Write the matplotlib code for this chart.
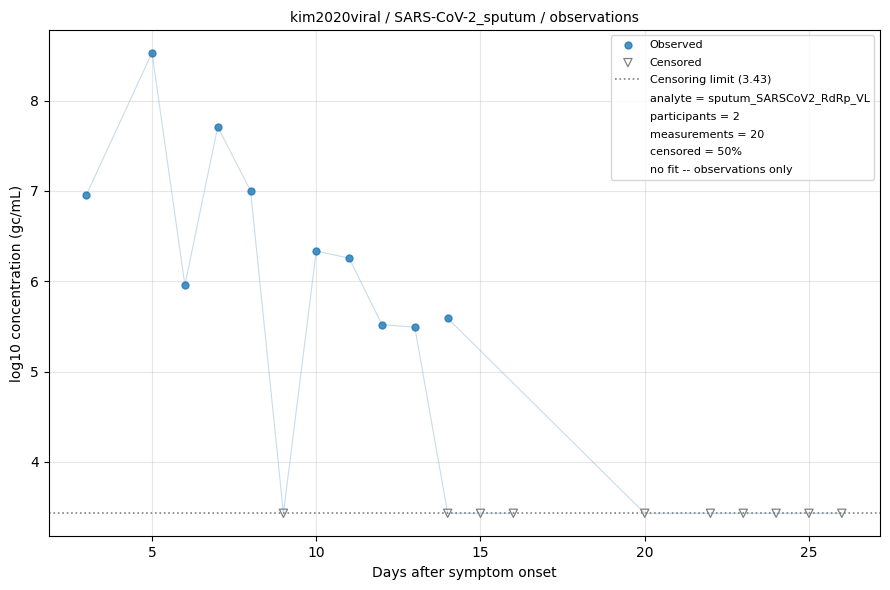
import matplotlib
matplotlib.use("Agg")
import matplotlib.pyplot as plt
from matplotlib.lines import Line2D

# Data
limit = 3.43
# participant 1
p1_days = [3, 5, 6, 7, 8, 9, 10, 11, 12, 13, 14, 15, 16]
p1_vals = [6.955, 8.53, 5.955, 7.71, 7.0, 3.43, 6.335, 6.255, 5.52, 5.49, 3.43, 3.43, 3.43]
p1_cens = [False, False, False, False, False, True, False, False, False, False, True, True, True]
# participant 2
p2_days = [14, 20, 22, 23, 24, 25, 26]
p2_vals = [5.59, 3.43, 3.43, 3.43, 3.43, 3.43, 3.43]
p2_cens = [False, True, True, True, True, True, True]

participants = [(p1_days, p1_vals, p1_cens), (p2_days, p2_vals, p2_cens)]

fig, ax = plt.subplots(figsize=(8.9, 5.9), dpi=100)

obs_x, obs_y, cen_x, cen_y = [], [], [], []
for days, vals, cens in participants:
    ax.plot(days, vals, color="tab:blue", alpha=0.25, lw=0.8, zorder=1)
    for d, v, c in zip(days, vals, cens):
        if c:
            cen_x.append(d)
            cen_y.append(v)
        else:
            obs_x.append(d)
            obs_y.append(v)

ax.scatter(obs_x, obs_y, s=25, color="tab:blue", alpha=0.8, zorder=3, label="Observed")
ax.scatter(cen_x, cen_y, s=35, marker="v", facecolors="none", edgecolors="gray",
           linewidths=0.9, zorder=3, label="Censored")
ax.axhline(limit, color="gray", ls=":", lw=1.2, label=f"Censoring limit ({limit})")

n_meas = len(p1_days) + len(p2_days)
pct = round(100 * len(cen_x) / n_meas)
extra = [
    "analyte = sputum_SARSCoV2_RdRp_VL",
    f"participants = {len(participants)}",
    f"measurements = {n_meas}",
    f"censored = {pct}%",
    "no fit -- observations only",
]
handles, labels = ax.get_legend_handles_labels()
for t in extra:
    handles.append(Line2D([], [], linestyle="none", marker=None))
    labels.append(t)
ax.legend(handles, labels, loc="upper right", fontsize=8, labelspacing=0.7,
          handlelength=2.3)

ax.set_title("kim2020viral / SARS-CoV-2_sputum / observations", fontsize=10)
ax.set_xlabel("Days after symptom onset")
ax.set_ylabel("log10 concentration (gc/mL)")
ax.grid(True, alpha=0.3)

plt.tight_layout(pad=0.75)
plt.savefig("out.png")
